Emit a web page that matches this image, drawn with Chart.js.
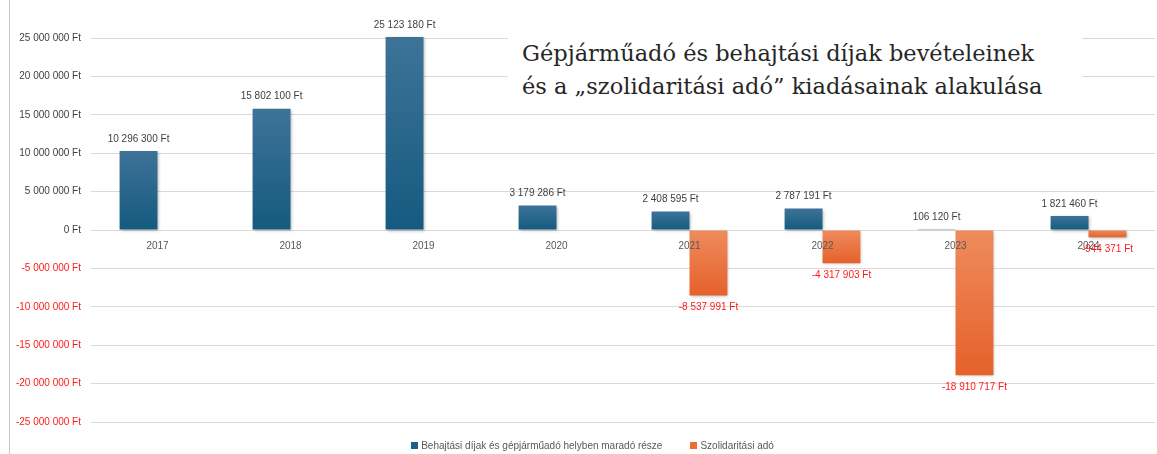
<!DOCTYPE html>
<html lang="hu">
<head>
<meta charset="utf-8">
<title>Gépjárműadó és szolidaritási adó</title>
<script src="https://cdn.jsdelivr.net/npm/chart.js@4"></script>
<style>
  html, body { margin: 0; padding: 0; background: #fff; }
  #wrap { position: relative; width: 1157px; height: 454px; overflow: hidden; }
  #wrap canvas { position: absolute; left: 0; top: 0; }
  #edge { position: absolute; left: 9px; top: 0; width: 1px; height: 454px; background: #c8c8c8; }
  #title {
    position: absolute; left: 508px; top: 35px; padding: 2px 40px 6px 14px;
    background: #fff; color: #262626;
    font-family: "DejaVu Serif", serif; font-size: 22.5px; line-height: 33px;
    white-space: nowrap;
  }
  #legend {
    position: absolute; left: 14px; top: 440px; width: 1157px;
    display: flex; justify-content: center; gap: 28px;
    font-family: "Liberation Sans", Arial, sans-serif; font-size: 10px; color: #595959;
  }
  #legend .item { display: flex; align-items: center; gap: 3px; }
  #legend .box { width: 7px; height: 7px; }
</style>
</head>
<body>
<div id="wrap">
  <canvas id="chart" width="1157" height="454"></canvas>
  <div id="edge"></div>
  <div id="title">Gépjárműadó és behajtási díjak bevételeinek<br>és a „szolidaritási adó” kiadásainak alakulása</div>
  <div id="legend"></div>
</div>
<script>
// years on the x axis
const years = ['2017', '2018', '2019', '2020', '2021', '2022', '2023', '2024'];

// blue bars: revenue kept locally (Ft)
const localRevenue = [10296300, 15802100, 25123180, 3179286, 2408595, 2787191, 106120, 1821460];

// orange bars: solidarity tax paid (Ft), none before 2021
const solidarityTax = [null, null, null, null, -8537991, -4317903, -18910717, -944371];

const seriesNames = ['Behajtási díjak és gépjárműadó helyben maradó része', 'Szolidaritási adó'];
const seriesColors = ['#1d5f86', '#ea6d35'];

// y axis range and step
const yMin = -25000000;
const yMax = 25000000;
const yStep = 5000000;

const FONT = '"Liberation Sans", Arial, sans-serif';

function formatFt(v) {
    const sign = v < 0 ? '-' : '';
    const digits = Math.abs(Math.round(v)).toString().replace(/\B(?=(\d{3})+(?!\d))/g, ' ');
    return `${sign}${digits} Ft`;
}

// vertical gradient per bar, lighter at the top
function barGradient(top, bottom) {
    return function(context) {
        const chart = context.chart;
        const yScale = chart.scales.y;
        const value = context.raw;
        if (!chart.chartArea || !yScale || value == null) return bottom;
        const p0 = yScale.getPixelForValue(0);
        const p1 = yScale.getPixelForValue(value);
        const y1 = Math.min(p0, p1);
        const y2 = Math.max(p0, p1);
        if (y2 - y1 < 1) return bottom;
        const g = chart.ctx.createLinearGradient(0, y1, 0, y2);
        g.addColorStop(0, top);
        g.addColorStop(1, bottom);
        return g;
    };
}

// soft shadow under the bars
const barShadow = {
    id: 'barShadow',
    beforeDatasetsDraw(chart) {
        const ctx = chart.ctx;
        ctx.save();
        ctx.shadowColor = 'rgba(0, 0, 0, 0.28)';
        ctx.shadowBlur = 3;
        ctx.shadowOffsetX = 1;
        ctx.shadowOffsetY = 1;
    },
    afterDatasetsDraw(chart) {
        chart.ctx.restore();
    }
};

// value labels above positive and below negative bars
const valueLabels = {
    id: 'valueLabels',
    afterDatasetsDraw(chart) {
        const ctx = chart.ctx;
        ctx.save();
        ctx.font = `10px ${FONT}`;
        ctx.textAlign = 'center';
        ctx.textBaseline = 'middle';
        chart.data.datasets.forEach((dataset, di) => {
            const meta = chart.getDatasetMeta(di);
            meta.data.forEach((bar, i) => {
                const v = dataset.data[i];
                if (v == null) return;
                if (v >= 0) {
                    ctx.fillStyle = '#404040';
                    ctx.fillText(formatFt(v), bar.x, bar.y - 12);
                } else {
                    ctx.fillStyle = '#ff1a1a';
                    ctx.fillText(formatFt(v), bar.x, bar.y + 12);
                }
            });
        });
        ctx.restore();
    }
};

new Chart(document.getElementById('chart').getContext('2d'), {
    type: 'bar',
    data: {
        labels: years,
        datasets: [
            {
                label: seriesNames[0],
                data: localRevenue,
                backgroundColor: barGradient('#3e7398', '#155a80'),
                borderWidth: 0,
                clip: false
            },
            {
                label: seriesNames[1],
                data: solidarityTax,
                backgroundColor: barGradient('#ef8b5e', '#e5612a'),
                borderWidth: 0,
                clip: false
            }
        ]
    },
    options: {
        responsive: false,
        animation: false,
        categoryPercentage: 0.57,
        barPercentage: 1.0,
        layout: { padding: { top: 38, right: 2, bottom: 32, left: 0 } },
        scales: {
            x: {
                position: { y: 0 },
                grid: { display: false, drawTicks: false },
                border: { display: false },
                ticks: {
                    z: 1,
                    color: '#595959',
                    font: { family: FONT, size: 10 },
                    padding: 10,
                    maxRotation: 0
                }
            },
            y: {
                min: yMin,
                max: yMax,
                afterFit(scale) { scale.width = 91; },
                grid: { color: '#d9d9d9', lineWidth: 1, drawTicks: false },
                border: { display: false },
                ticks: {
                    stepSize: yStep,
                    padding: 10,
                    font: { family: FONT, size: 10 },
                    color: ctx => ctx.tick.value < 0 ? '#ff1a1a' : '#404040',
                    callback: value => formatFt(value)
                }
            }
        },
        plugins: {
            legend: { display: false },
            tooltip: { enabled: false }
        }
    },
    plugins: [barShadow, valueLabels]
});

// legend below the chart
const legendDiv = document.getElementById('legend');
seriesNames.forEach((name, i) => {
    const item = document.createElement('div');
    item.className = 'item';
    const box = document.createElement('div');
    box.className = 'box';
    box.style.backgroundColor = seriesColors[i];
    const label = document.createElement('span');
    label.textContent = name;
    item.appendChild(box);
    item.appendChild(label);
    legendDiv.appendChild(item);
});
</script>
</body>
</html>
